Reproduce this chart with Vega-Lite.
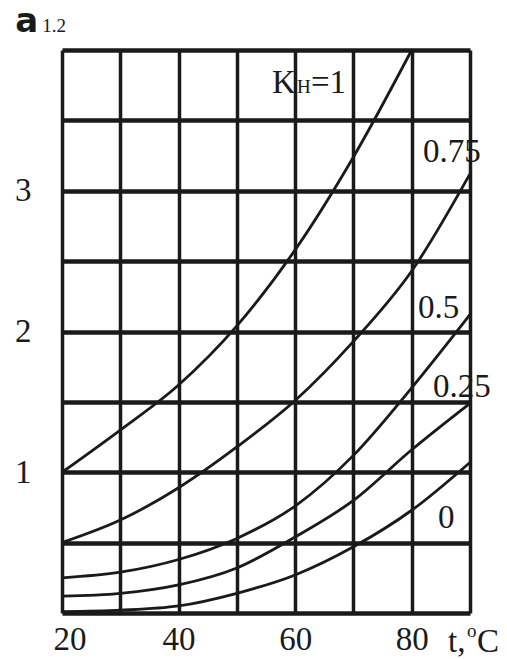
{
  "$schema": "https://vega.github.io/schema/vega-lite/v6.json",
  "width": 408,
  "height": 563,
  "autosize": {"type": "none"},
  "padding": {"left": 62, "top": 50, "right": 37, "bottom": 46},
  "background": "white",
  "config": {"view": {"stroke": null}},
  "datasets": {
    "curves": [
      {"t": 20, "a": 1.0, "k": "1"},
      {"t": 30, "a": 1.3, "k": "1"},
      {"t": 40, "a": 1.62, "k": "1"},
      {"t": 50, "a": 2.04, "k": "1"},
      {"t": 60, "a": 2.58, "k": "1"},
      {"t": 70, "a": 3.24, "k": "1"},
      {"t": 80, "a": 4.0, "k": "1"},
      {"t": 20, "a": 0.5, "k": "0.75"},
      {"t": 30, "a": 0.66, "k": "0.75"},
      {"t": 40, "a": 0.89, "k": "0.75"},
      {"t": 50, "a": 1.18, "k": "0.75"},
      {"t": 60, "a": 1.51, "k": "0.75"},
      {"t": 70, "a": 1.93, "k": "0.75"},
      {"t": 80, "a": 2.43, "k": "0.75"},
      {"t": 90, "a": 3.12, "k": "0.75"},
      {"t": 20, "a": 0.25, "k": "0.5"},
      {"t": 30, "a": 0.29, "k": "0.5"},
      {"t": 40, "a": 0.38, "k": "0.5"},
      {"t": 50, "a": 0.53, "k": "0.5"},
      {"t": 60, "a": 0.76, "k": "0.5"},
      {"t": 70, "a": 1.12, "k": "0.5"},
      {"t": 80, "a": 1.6, "k": "0.5"},
      {"t": 90, "a": 2.12, "k": "0.5"},
      {"t": 20, "a": 0.12, "k": "0.25"},
      {"t": 30, "a": 0.14, "k": "0.25"},
      {"t": 40, "a": 0.2, "k": "0.25"},
      {"t": 50, "a": 0.32, "k": "0.25"},
      {"t": 60, "a": 0.54, "k": "0.25"},
      {"t": 70, "a": 0.8, "k": "0.25"},
      {"t": 80, "a": 1.16, "k": "0.25"},
      {"t": 90, "a": 1.49, "k": "0.25"},
      {"t": 20, "a": 0.01, "k": "0"},
      {"t": 30, "a": 0.02, "k": "0"},
      {"t": 40, "a": 0.05, "k": "0"},
      {"t": 50, "a": 0.14, "k": "0"},
      {"t": 60, "a": 0.27, "k": "0"},
      {"t": 70, "a": 0.47, "k": "0"},
      {"t": 80, "a": 0.73, "k": "0"},
      {"t": 90, "a": 1.07, "k": "0"}
    ],
    "labelsBig": [
      {"t": 56.03, "a": 3.694, "text": "K"},
      {"t": 62.72, "a": 3.694, "text": "=1"},
      {"t": 81.94, "a": 3.204, "text": "0.75"},
      {"t": 81.08, "a": 2.096, "text": "0.5"},
      {"t": 83.65, "a": 1.535, "text": "0.25"},
      {"t": 84.51, "a": 0.604, "text": "0"},
      {"t": 86.22, "a": -0.277, "text": "t,"},
      {"t": 91.2, "a": -0.277, "text": "C"}
    ],
    "labelsSmall": [
      {"t": 60.32, "a": 3.694, "text": "Н"},
      {"t": 89.48, "a": -0.171, "text": "o"},
      {"t": 16.6, "a": 4.128, "text": "1.2"}
    ],
    "symbol": [
      {"t": 12.0, "a": 4.128, "text": "a"}
    ]
  },
  "layer": [
    {
      "data": {"name": "curves"},
      "mark": {"type": "line", "interpolate": "monotone", "color": "#1a1a1a", "strokeWidth": 2.8},
      "encoding": {
        "x": {
          "field": "t", "type": "quantitative",
          "scale": {"domain": [20, 90], "nice": false, "zero": false},
          "axis": {
            "values": [20, 30, 40, 50, 60, 70, 80, 90],
            "title": null, "grid": true, "gridColor": "#1a1a1a", "gridWidth": 3.5, "gridOpacity": 1,
            "domain": false, "ticks": false,
            "labelFont": "Liberation Serif", "labelFontSize": 33, "labelColor": "#1a1a1a",
            "labelPadding": 10, "labelFlush": true, "labelFlushOffset": 9,
            "labelExpr": "(datum.value % 20 == 0 && datum.value < 90) ? format(datum.value, 'd') : ''"
          }
        },
        "y": {
          "field": "a", "type": "quantitative",
          "scale": {"domain": [0, 4], "nice": false},
          "axis": {
            "values": [0, 0.5, 1, 1.5, 2, 2.5, 3, 3.5, 4],
            "title": null, "grid": true, "gridColor": "#1a1a1a", "gridWidth": 4.5, "gridOpacity": 1,
            "domain": false, "ticks": false,
            "labelFont": "Liberation Serif", "labelFontSize": 33, "labelColor": "#1a1a1a",
            "labelPadding": 31, "labelFlush": false,
            "labelExpr": "(datum.value == 1 || datum.value == 2 || datum.value == 3) ? format(datum.value, 'd') : ''"
          }
        },
        "detail": {"field": "k"}
      }
    },
    {
      "data": {"name": "labelsBig"},
      "mark": {"type": "text", "align": "left", "baseline": "alphabetic", "font": "Liberation Serif", "fontSize": 33, "color": "#1a1a1a"},
      "encoding": {
        "x": {"field": "t", "type": "quantitative"},
        "y": {"field": "a", "type": "quantitative"},
        "text": {"field": "text"}
      }
    },
    {
      "data": {"name": "labelsSmall"},
      "mark": {"type": "text", "align": "left", "baseline": "alphabetic", "font": "Liberation Serif", "fontSize": 19, "color": "#1a1a1a"},
      "encoding": {
        "x": {"field": "t", "type": "quantitative"},
        "y": {"field": "a", "type": "quantitative"},
        "text": {"field": "text"}
      }
    },
    {
      "data": {"name": "symbol"},
      "mark": {"type": "text", "align": "left", "baseline": "alphabetic", "font": "DejaVu Sans", "fontWeight": "bold", "fontSize": 34, "color": "#1a1a1a"},
      "encoding": {
        "x": {"field": "t", "type": "quantitative"},
        "y": {"field": "a", "type": "quantitative"},
        "text": {"field": "text"}
      }
    }
  ]
}
